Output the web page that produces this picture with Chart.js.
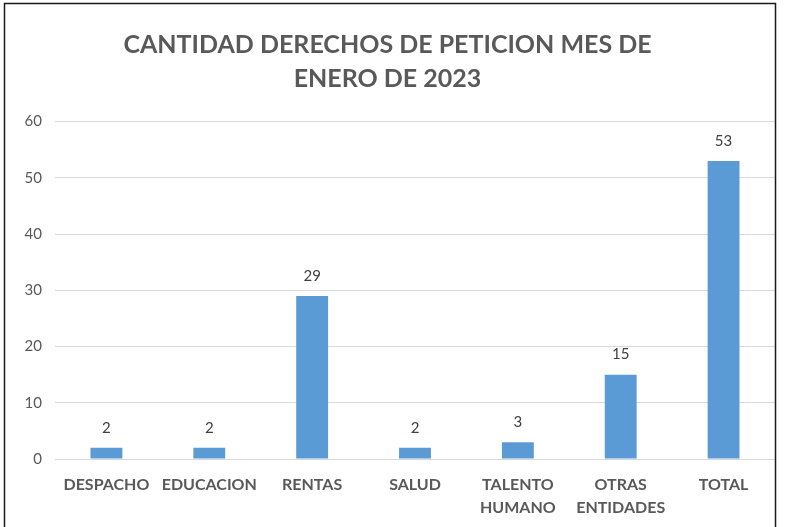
<!DOCTYPE html>
<html><head><meta charset="utf-8">
<script src="https://cdn.jsdelivr.net/npm/chart.js@4.4.1/dist/chart.umd.min.js"></script>
<style>html,body{margin:0;padding:0;background:#fff}#wrap{width:786px;height:527px;position:relative}</style>
</head><body><div id="wrap"><canvas id="c" width="786" height="527"></canvas></div>
<script>
const categories = ['DESPACHO','EDUCACION','RENTAS','SALUD',['TALENTO','HUMANO'],['OTRAS','ENTIDADES'],'TOTAL'];
const values = [2, 2, 29, 2, 3, 15, 53];
const yTicks = [0, 10, 20, 30, 40, 50, 60];
const titleLines = ['CANTIDAD DERECHOS DE PETICION MES DE', 'ENERO DE 2023'];
const FONT = 'Lato, "Open Sans", sans-serif';

const borderPlugin = {
  id: 'frame',
  afterDraw(chart) {
    const ctx = chart.ctx;
    ctx.save();
    ctx.strokeStyle = '#1a1a1a';
    ctx.lineWidth = 1.5;
    ctx.beginPath();
    ctx.moveTo(4.5, 527); ctx.lineTo(4.5, 3.5); ctx.lineTo(775.5, 3.5); ctx.lineTo(775.5, 527);
    ctx.stroke();
    ctx.restore();
  }
};
const labelPlugin = {
  id: 'vals',
  afterDatasetsDraw(chart) {
    const ctx = chart.ctx;
    const meta = chart.getDatasetMeta(0);
    ctx.save();
    ctx.fillStyle = '#404040';
    ctx.font = '15px ' + FONT;
    ctx.textAlign = 'center';
    ctx.textBaseline = 'middle';
    meta.data.forEach((bar, i) => {
      ctx.fillText(String(values[i]), bar.x, bar.y - 20);
    });
    ctx.restore();
  }
};

new Chart(document.getElementById('c'), {
  type: 'bar',
  data: { labels: categories, datasets: [{ data: values, backgroundColor: '#5B9BD5', borderWidth: 0, barPercentage: 0.31, categoryPercentage: 1 }] },
  options: {
    responsive: false, animation: false,
    layout: { padding: { left: 0, right: 11, top: 28, bottom: 0 } },
    plugins: {
      legend: { display: false }, tooltip: { enabled: false },
      title: { display: true, text: titleLines, color: '#595959', font: { family: FONT, size: 25, weight: 'bold', lineHeight: 1.35 }, padding: { top: 0, bottom: 26 } }
    },
    scales: {
      x: {
        grid: { display: false, drawTicks: false },
        border: { display: false },
        ticks: { color: '#595959', font: { family: FONT, size: 16, weight: 'bold', lineHeight: 1.45 }, padding: 14, maxRotation: 0, minRotation: 0, autoSkip: false },
        afterFit(s) { s.height = 68; }
      },
      y: {
        min: 0, max: 60,
        afterBuildTicks(s) { s.ticks = yTicks.map(v => ({ value: v })); },
        grid: { color: '#d9d9d9', lineWidth: 1, drawTicks: false },
        border: { display: false },
        ticks: { color: '#595959', font: { family: FONT, size: 15 }, padding: 13 },
        afterFit(s) { s.width = 55; }
      }
    }
  },
  plugins: [borderPlugin, labelPlugin]
});
</script></body></html>
